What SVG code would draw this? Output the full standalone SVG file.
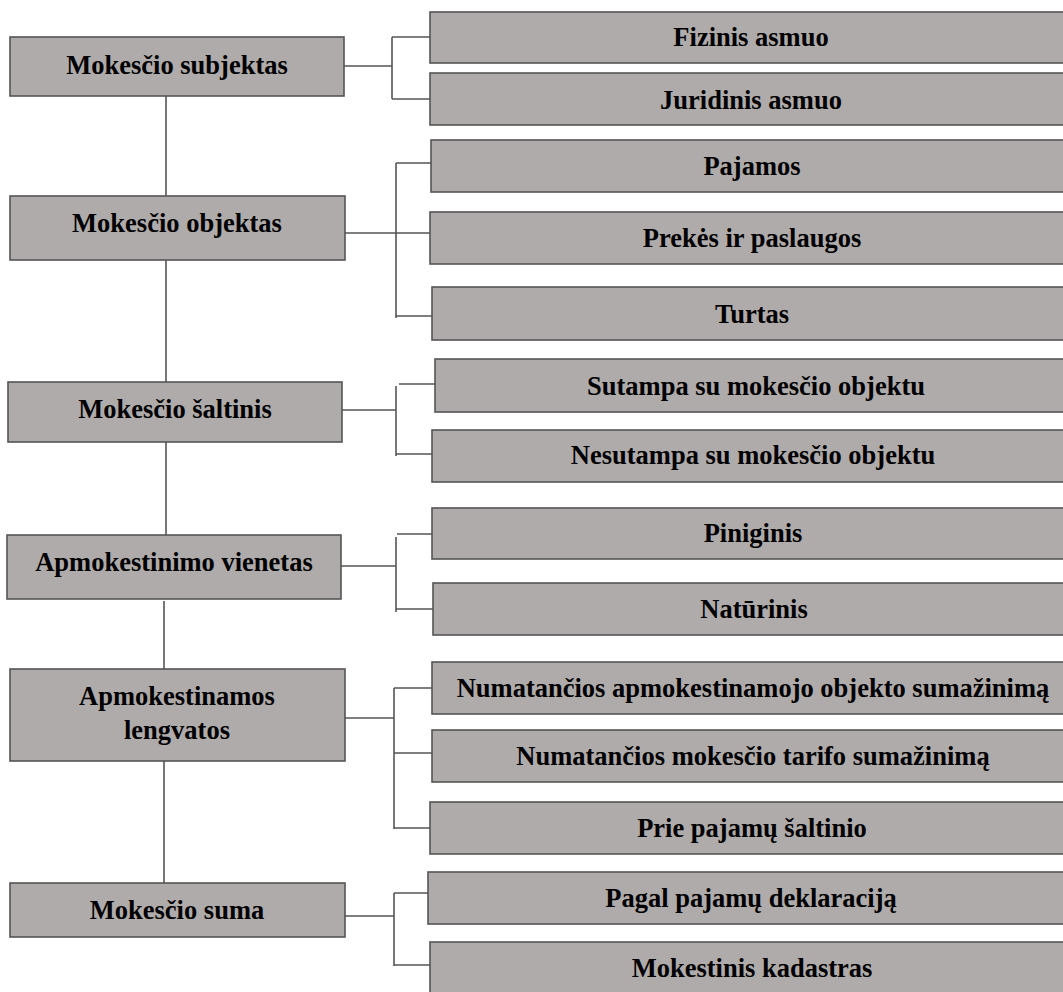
<svg xmlns="http://www.w3.org/2000/svg" width="1063" height="992" viewBox="0 0 1063 992">
  <style>
    .box { fill: #afabaa; stroke: #555555; stroke-width: 1.6; }
    .lbl { font-family: 'Liberation Serif', 'Times New Roman', serif; font-weight: bold; font-size: 26.5px; fill: #000000; text-anchor: middle; }
    .con { stroke: #555555; stroke-width: 1.6; fill: none; }
  </style>
  <rect width="1063" height="992" fill="#ffffff"/>

  <!-- connectors: spine between the main boxes, then one bracket per group -->
  <g id="connectors" class="con">
    <line x1="166" y1="96" x2="166" y2="196"/>
    <line x1="166" y1="260" x2="166" y2="382"/>
    <line x1="166" y1="442" x2="166" y2="535"/>
    <line x1="164" y1="601" x2="164" y2="669"/>
    <line x1="164" y1="761" x2="164" y2="883"/>
    <!-- subjektas -->
    <line x1="344" y1="66" x2="392" y2="66"/>
    <line x1="392" y1="37" x2="392" y2="99"/>
    <line x1="392" y1="37" x2="430" y2="37"/>
    <line x1="392" y1="99" x2="430" y2="99"/>
    <!-- objektas -->
    <line x1="345" y1="233" x2="432" y2="233"/>
    <line x1="396" y1="163" x2="396" y2="318"/>
    <line x1="396" y1="163" x2="432" y2="163"/>
    <line x1="396" y1="316" x2="433" y2="316"/>
    <!-- saltinis -->
    <line x1="342" y1="410" x2="396" y2="410"/>
    <line x1="396" y1="386" x2="396" y2="456"/>
    <line x1="399" y1="384" x2="437" y2="384"/>
    <line x1="396" y1="454" x2="433" y2="454"/>
    <!-- vienetas -->
    <line x1="341" y1="566" x2="396" y2="566"/>
    <line x1="396" y1="537" x2="396" y2="612"/>
    <line x1="397" y1="534" x2="434" y2="534"/>
    <line x1="396" y1="609" x2="435" y2="609"/>
    <!-- lengvatos -->
    <line x1="345" y1="718" x2="394" y2="718"/>
    <line x1="394" y1="688" x2="394" y2="829"/>
    <line x1="394" y1="688" x2="433" y2="688"/>
    <line x1="394" y1="753" x2="433" y2="753"/>
    <line x1="394" y1="828" x2="431" y2="828"/>
    <!-- suma -->
    <line x1="345" y1="916" x2="394" y2="916"/>
    <line x1="394" y1="893" x2="394" y2="966"/>
    <line x1="394" y1="893" x2="429" y2="893"/>
    <line x1="394" y1="965" x2="431" y2="965"/>
  </g>

  <!-- main column -->
  <g id="mokescio-subjektas">
    <rect class="box" x="10" y="37" width="334" height="59"/>
    <text class="lbl" x="177" y="74">Mokesčio subjektas</text>
  </g>
  <g id="mokescio-objektas">
    <rect class="box" x="10" y="196" width="335" height="64"/>
    <text class="lbl" x="177" y="232">Mokesčio objektas</text>
  </g>
  <g id="mokescio-saltinis">
    <rect class="box" x="8" y="382" width="334" height="60"/>
    <text class="lbl" x="175" y="418">Mokesčio šaltinis</text>
  </g>
  <g id="apmokestinimo-vienetas">
    <rect class="box" x="7" y="535" width="334" height="64"/>
    <text class="lbl" x="174" y="571">Apmokestinimo vienetas</text>
  </g>
  <g id="apmokestinamos-lengvatos">
    <rect class="box" x="10" y="669" width="335" height="92"/>
    <text class="lbl" x="177" y="705">Apmokestinamos</text>
    <text class="lbl" x="177" y="739">lengvatos</text>
  </g>
  <g id="mokescio-suma">
    <rect class="box" x="10" y="883" width="335" height="54"/>
    <text class="lbl" x="177" y="919">Mokesčio suma</text>
  </g>

  <!-- detail column -->
  <g id="fizinis-asmuo">
    <rect class="box" x="430" y="12" width="645" height="51"/>
    <text class="lbl" x="751" y="46">Fizinis asmuo</text>
  </g>
  <g id="juridinis-asmuo">
    <rect class="box" x="430" y="73" width="645" height="52"/>
    <text class="lbl" x="751" y="109">Juridinis asmuo</text>
  </g>
  <g id="pajamos">
    <rect class="box" x="431" y="140" width="644" height="52"/>
    <text class="lbl" x="752" y="175">Pajamos</text>
  </g>
  <g id="prekes-ir-paslaugos">
    <rect class="box" x="430" y="212" width="645" height="52"/>
    <text class="lbl" x="752" y="247">Prekės ir paslaugos</text>
  </g>
  <g id="turtas">
    <rect class="box" x="432" y="287" width="643" height="53"/>
    <text class="lbl" x="752" y="323">Turtas</text>
  </g>
  <g id="sutampa">
    <rect class="box" x="435" y="359" width="640" height="53"/>
    <text class="lbl" x="756" y="395">Sutampa su mokesčio objektu</text>
  </g>
  <g id="nesutampa">
    <rect class="box" x="432" y="430" width="643" height="52"/>
    <text class="lbl" x="753" y="464">Nesutampa su mokesčio objektu</text>
  </g>
  <g id="piniginis">
    <rect class="box" x="432" y="508" width="643" height="51"/>
    <text class="lbl" x="753" y="542">Piniginis</text>
  </g>
  <g id="naturinis">
    <rect class="box" x="433" y="583" width="642" height="52"/>
    <text class="lbl" x="754" y="618">Natūrinis</text>
  </g>
  <g id="objekto-sumazinimas">
    <rect class="box" x="432" y="662" width="643" height="52"/>
    <text class="lbl" x="753" y="697">Numatančios apmokestinamojo objekto sumažinimą</text>
  </g>
  <g id="tarifo-sumazinimas">
    <rect class="box" x="432" y="730" width="643" height="52"/>
    <text class="lbl" x="753" y="765">Numatančios mokesčio tarifo sumažinimą</text>
  </g>
  <g id="prie-pajamu-saltinio">
    <rect class="box" x="430" y="802" width="645" height="52"/>
    <text class="lbl" x="752" y="837">Prie pajamų šaltinio</text>
  </g>
  <g id="pagal-deklaracija">
    <rect class="box" x="428" y="872" width="647" height="52"/>
    <text class="lbl" x="751" y="907">Pagal pajamų deklaraciją</text>
  </g>
  <g id="mokestinis-kadastras">
    <rect class="box" x="430" y="942" width="645" height="53"/>
    <text class="lbl" x="752" y="977">Mokestinis kadastras</text>
  </g>
</svg>
